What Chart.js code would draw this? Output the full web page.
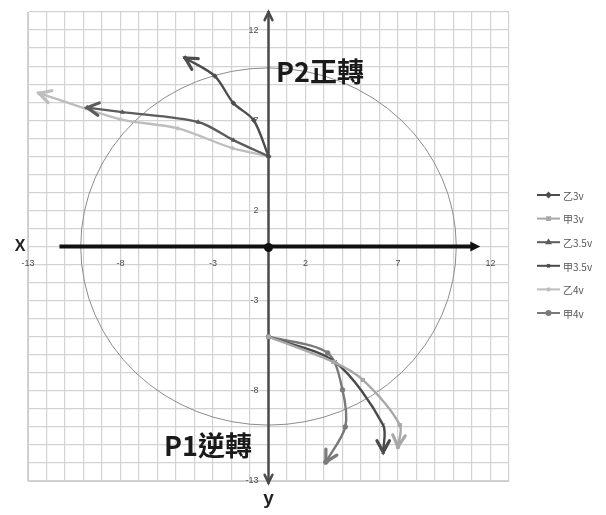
<!DOCTYPE html>
<html>
<head>
<meta charset="utf-8">
<script src="https://cdn.jsdelivr.net/npm/chart.js@4.4.1/dist/chart.umd.min.js"></script>
<style>
  html, body { margin: 0; padding: 0; background: #fff; }
  #wrap { width: 606px; height: 515px; position: relative; }
</style>
</head>
<body>
<div id="wrap"><canvas id="c" width="606" height="515"></canvas></div>
<script>
// ---- data -------------------------------------------------------------
const seriesNames = ['乙3v', '甲3v', '乙3.5v', '甲3.5v', '乙4v', '甲4v'];

// 乙 : P2 (forward) runs, upper-left quadrant
const yi3X  = [0, -0.8, -1.9, -2.9, -4.5];
const yi3Y  = [5, 7.0, 7.95, 9.45, 10.45];
const yi35X = [0, -1.9, -3.8, -7.9, -9.8];
const yi35Y = [5, 5.9, 6.9, 7.45, 7.7];
const yi4X  = [0, -1.95, -4.9, -8.0, -12.4];
const yi4Y  = [5, 5.45, 6.55, 7.05, 8.5];

// 甲 : P1 (reverse) runs, lower-right quadrant
const jia3X  = [0, 3.5, 5.1, 7.1, 7.0];
const jia3Y  = [-5, -6.4, -7.4, -9.9, -11.1];
const jia35X = [0, 3.6, 6.2, 6.2];
const jia35Y = [-5, -6.4, -9.9, -11.4];
const jia4X  = [0, 3.2, 4.0, 4.15, 3.1];
const jia4Y  = [-5, -5.9, -7.95, -10.0, -11.95];

const xTickLabels = [-13, -8, -3, 2, 7, 12];
const yTickLabels = [12, 7, 2, -3, -8, -13];

// ---- styling ----------------------------------------------------------
const seriesX = [yi3X, jia3X, yi35X, jia35X, yi4X, jia4X];
const seriesY = [yi3Y, jia3Y, yi35Y, jia35Y, yi4Y, jia4Y];
const seriesColor  = ['#4d4d4d', '#a8a8a8', '#5c5c5c', '#4a4a4a', '#bdbdbd', '#7a7a7a'];
const seriesMarker = ['rectRot', 'rect', 'triangle', 'crossRot', 'star', 'circle'];

const AXIS_MIN = -13, AXIS_MAX = 13;
const RING_RX = 10.15, RING_RY = 9.9;          // reference ring round the origin
const X_ARROW_FROM = -11.3, X_ARROW_TO = 11.45; // bold horizontal axis
const Y_ARROW_TOP = 13, Y_ARROW_BOTTOM = -13.1; // vertical axis

const tickFont = "9px 'Liberation Sans', Arial, sans-serif";
const cjkFamily = "'Noto Sans CJK TC', 'Noto Sans CJK SC', sans-serif";

const toPoints = (xs, ys) => xs.map((v, i) => ({ x: v, y: ys[i] }));

const datasets = seriesNames.map((name, i) => ({
  label: name,
  data: toPoints(seriesX[i], seriesY[i]),
  showLine: true,
  borderColor: seriesColor[i],
  backgroundColor: seriesColor[i],
  pointBackgroundColor: seriesColor[i],
  pointBorderColor: seriesColor[i],
  borderWidth: 2.4,
  pointStyle: seriesMarker[i],
  pointRadius: 2.3,
  pointBorderWidth: 1,
  tension: 0.3
}));

// ---- drawing helpers --------------------------------------------------
function chevron(ctx, tipX, tipY, angle, len, spread) {
  ctx.beginPath();
  ctx.moveTo(tipX - len * Math.cos(angle - spread), tipY - len * Math.sin(angle - spread));
  ctx.lineTo(tipX, tipY);
  ctx.lineTo(tipX - len * Math.cos(angle + spread), tipY - len * Math.sin(angle + spread));
  ctx.stroke();
}

// ring, axes with arrowheads, tick labels
const axisArt = {
  id: 'axisArt',
  beforeDatasetsDraw(chart) {
    const { ctx } = chart;
    const xs = chart.scales.x, ys = chart.scales.y;
    const ox = xs.getPixelForValue(0), oy = ys.getPixelForValue(0);
    ctx.save();

    // ring
    ctx.beginPath();
    ctx.ellipse(ox, oy,
      Math.abs(xs.getPixelForValue(RING_RX) - ox),
      Math.abs(ys.getPixelForValue(RING_RY) - oy), 0, 0, Math.PI * 2);
    ctx.strokeStyle = '#8c8c8c';
    ctx.lineWidth = 1;
    ctx.stroke();

    // vertical axis
    const yt = ys.getPixelForValue(Y_ARROW_TOP), yb = ys.getPixelForValue(Y_ARROW_BOTTOM);
    ctx.strokeStyle = '#4a4a4a';
    ctx.lineWidth = 2.5;
    ctx.lineCap = 'round';
    ctx.beginPath();
    ctx.moveTo(ox, yt); ctx.lineTo(ox, yb);
    ctx.stroke();
    chevron(ctx, ox, yt, -Math.PI / 2, 9, 0.45);
    chevron(ctx, ox, yb, Math.PI / 2, 9, 0.45);

    // horizontal axis
    const xl = xs.getPixelForValue(X_ARROW_FROM), xr = xs.getPixelForValue(X_ARROW_TO);
    ctx.strokeStyle = '#111';
    ctx.lineWidth = 4;
    ctx.lineCap = 'butt';
    ctx.beginPath();
    ctx.moveTo(xl, oy); ctx.lineTo(xr - 6, oy);
    ctx.stroke();
    ctx.fillStyle = '#111';
    ctx.beginPath();
    ctx.moveTo(xr, oy); ctx.lineTo(xr - 10, oy - 5); ctx.lineTo(xr - 10, oy + 5);
    ctx.closePath();
    ctx.fill();

    // origin dot
    ctx.beginPath();
    ctx.arc(ox, oy + 1, 4.5, 0, Math.PI * 2);
    ctx.fill();

    // tick labels next to the axes
    ctx.font = tickFont;
    ctx.fillStyle = '#4d4d4d';
    ctx.textAlign = 'center';
    ctx.textBaseline = 'middle';
    xTickLabels.forEach(v => ctx.fillText(String(v), xs.getPixelForValue(v), oy + 17));
    ctx.textAlign = 'right';
    yTickLabels.forEach(v => ctx.fillText(String(v), ox - 10, ys.getPixelForValue(v)));
    ctx.restore();
  },

  afterDatasetsDraw(chart) {
    // arrowhead at the end of every series, along its final tangent
    const { ctx } = chart;
    chart.data.datasets.forEach((ds, i) => {
      const pts = chart.getDatasetMeta(i).data;
      if (pts.length < 2) return;
      const last = pts[pts.length - 1], prev = pts[pts.length - 2];
      let fx = last.cp1x, fy = last.cp1y;
      if (fx === undefined || Math.hypot(last.x - fx, last.y - fy) < 1) { fx = prev.x; fy = prev.y; }
      const ang = Math.atan2(last.y - fy, last.x - fx);
      ctx.save();
      ctx.strokeStyle = ds.borderColor;
      ctx.lineWidth = 3.2;
      ctx.lineCap = 'round';
      ctx.lineJoin = 'miter';
      chevron(ctx, last.x, last.y, ang, 13, 0.5);
      ctx.restore();
    });
  },

  afterDraw(chart) {
    const { ctx } = chart;
    const xs = chart.scales.x, ys = chart.scales.y;
    ctx.save();
    // axis names
    ctx.fillStyle = '#222';
    ctx.textAlign = 'center';
    ctx.textBaseline = 'middle';
    ctx.font = "bold 16px 'Liberation Sans', Arial, sans-serif";
    ctx.fillText('X', 20, ys.getPixelForValue(0));
    ctx.font = "bold 19px 'Liberation Sans', Arial, sans-serif";
    ctx.fillText('y', xs.getPixelForValue(0), 499);

    // quadrant captions
    ctx.fillStyle = '#1a1a1a';
    ctx.textAlign = 'left';
    ctx.font = 'bold 27px ' + cjkFamily;
    ctx.fillText('P2正轉', 276, 72);
    ctx.fillText('P1逆轉', 164, 446);

    // legend
    const lx = 537, lw = 23, ly0 = 195, step = 23.6;
    ctx.font = '10px ' + cjkFamily;
    chart.data.datasets.forEach((ds, i) => {
      const yy = ly0 + i * step;
      ctx.strokeStyle = ds.borderColor;
      ctx.lineWidth = 2;
      ctx.beginPath();
      ctx.moveTo(lx, yy); ctx.lineTo(lx + lw, yy);
      ctx.stroke();
      ctx.fillStyle = ds.borderColor;
      Chart.helpers.drawPoint(ctx, {
        pointStyle: ds.pointStyle, radius: 2, borderWidth: 1, rotation: 0
      }, lx + lw / 2, yy);
      ctx.fillStyle = '#555';
      ctx.fillText(ds.label, lx + lw + 3, yy + 1);
    });
    ctx.restore();
  }
};

new Chart(document.getElementById('c'), {
  type: 'scatter',
  data: { datasets },
  options: {
    responsive: false,
    devicePixelRatio: 1,
    animation: false,
    layout: { padding: { left: 28, top: 12, right: 97, bottom: 34 } },
    plugins: { legend: { display: false }, tooltip: { enabled: false } },
    scales: {
      x: {
        type: 'linear', min: AXIS_MIN, max: AXIS_MAX,
        ticks: { stepSize: 1, display: false },
        grid: { color: '#d3d3d3', lineWidth: 1.2, drawTicks: false },
        border: { display: true, color: '#cccccc' }
      },
      y: {
        type: 'linear', min: AXIS_MIN, max: AXIS_MAX,
        ticks: { stepSize: 1, display: false },
        grid: { color: '#d3d3d3', lineWidth: 1.2, drawTicks: false },
        border: { display: true, color: '#cccccc' }
      }
    }
  },
  plugins: [axisArt]
});
</script>
</body>
</html>
